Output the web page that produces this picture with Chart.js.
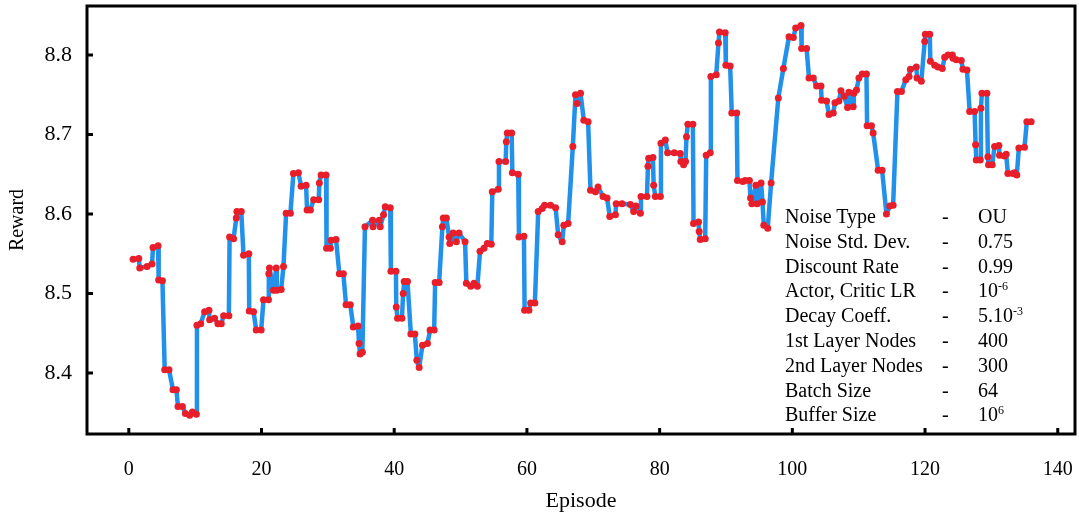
<!DOCTYPE html>
<html>
<head>
<meta charset="utf-8">
<script src="https://cdn.jsdelivr.net/npm/chart.js@4.4.0/dist/chart.umd.min.js"></script>
<style>
  body { margin: 0; background: #fff; }
  #wrap { position: relative; width: 1079px; height: 515px; }
  #params { position: absolute; left: 785px; top: 204px; font: 20px "Liberation Serif", serif; color: #000; }
  #params .row { position: relative; height: 24.8px; line-height: 24.8px; white-space: nowrap; }
  #params .dash { position: absolute; left: 157px; }
  #params .val { position: absolute; left: 193px; }
  #params sup { font-size: 12px; line-height: 0; vertical-align: 7px; }
</style>
</head>
<body>
<div id="wrap">
  <canvas id="myChart" width="1079" height="515"></canvas>
  <div id="params"></div>
</div>
<script>
const episodes = [
  0.65, 1.50, 1.65, 2.75, 3.50, 3.65, 4.41, 4.50, 5.07, 5.41, 6.06, 6.66, 7.17, 7.41, 8.08, 8.53, 9.17, 9.58, 10.18, 10.27,
  10.83, 11.43, 12.08, 12.18, 12.93, 13.43, 13.94, 14.29, 15.08, 15.19, 15.79, 16.20, 16.29, 16.95, 17.29, 18.09, 18.15, 18.80, 19.20, 19.95,
  20.30, 21.05, 21.10, 21.20, 21.80, 22.21, 22.30, 22.96, 23.31, 23.71, 24.36, 24.81, 25.56, 25.97, 26.72, 26.87, 27.37, 27.86, 28.62, 28.72,
  28.98, 29.73, 29.80, 30.38, 30.48, 31.23, 31.73, 32.33, 32.74, 33.38, 33.83, 34.55, 34.70, 34.85, 35.20, 35.59, 36.74, 36.80, 37.74, 37.89,
  38.39, 38.65, 39.40, 39.50, 40.26, 40.31, 40.50, 41.16, 41.35, 41.50, 42.00, 42.51, 43.11, 43.41, 43.76, 44.26, 45.01, 45.41, 46.02, 46.17,
  46.77, 47.26, 47.40, 47.86, 48.27, 48.37, 48.87, 49.37, 49.77, 50.68, 50.87, 51.53, 52.03, 52.53, 52.93, 53.53, 54.03, 54.63, 54.78, 55.68,
  55.79, 56.80, 56.89, 57.04, 57.70, 57.80, 58.69, 58.80, 59.55, 59.65, 60.30, 60.56, 61.20, 61.70, 62.30, 62.66, 63.56, 64.32, 64.71, 65.31,
  65.56, 66.21, 66.92, 67.32, 67.56, 68.08, 68.57, 69.22, 69.58, 70.33, 70.72, 71.47, 72.08, 72.48, 73.34, 73.45, 74.33, 75.59, 76.09, 76.44,
  77.10, 77.19, 78.09, 78.24, 78.35, 78.99, 79.10, 79.35, 80.11, 80.20, 80.86, 81.20, 82.21, 83.11, 83.20, 83.61, 83.90, 84.05, 84.25, 85.01,
  85.11, 85.86, 85.96, 86.12, 86.87, 87.02, 87.62, 87.72, 88.53, 88.87, 89.02, 89.88, 89.98, 90.63, 90.87, 91.62, 91.73, 92.53, 92.89, 93.53,
  93.70, 93.90, 94.50, 94.70, 95.29, 95.50, 95.70, 96.29, 96.80, 97.89, 98.65, 99.50, 100.15, 100.50, 101.31, 101.40, 102.15, 102.51, 103.16, 103.66,
  104.32, 104.41, 105.16, 105.52, 106.17, 106.42, 107.02, 107.32, 107.82, 108.32, 108.53, 109.17, 109.27, 109.67, 110.03, 110.53, 111.17, 111.27, 111.93, 112.18,
  112.93, 113.53, 114.18, 114.69, 115.19, 115.84, 116.44, 117.10, 117.59, 117.79, 118.69, 118.79, 119.44, 119.95, 120.05, 120.71, 120.80, 121.46, 121.95, 122.60,
  122.96, 123.46, 124.11, 124.21, 124.71, 125.46, 125.71, 126.32, 126.72, 127.47, 127.62, 127.72, 128.32, 128.42, 128.57, 129.32, 129.47, 129.57, 130.12, 130.48,
  131.13, 131.23, 131.98, 132.23, 132.48, 133.23, 133.49, 133.83, 134.14, 134.99, 135.34, 135.99
];
const rewards = [
  8.543, 8.544, 8.532, 8.534, 8.537, 8.558, 8.560, 8.517, 8.516, 8.404, 8.404, 8.379, 8.379, 8.358, 8.358, 8.349, 8.347, 8.351, 8.348, 8.460,
  8.462, 8.477, 8.479, 8.467, 8.469, 8.462, 8.462, 8.472, 8.472, 8.571, 8.569, 8.595, 8.603, 8.603, 8.548, 8.550, 8.478, 8.477, 8.454, 8.454,
  8.492, 8.492, 8.525, 8.532, 8.504, 8.532, 8.504, 8.505, 8.534, 8.601, 8.601, 8.651, 8.652, 8.635, 8.636, 8.605, 8.605, 8.618, 8.618, 8.639,
  8.649, 8.649, 8.557, 8.557, 8.567, 8.568, 8.525, 8.525, 8.486, 8.486, 8.458, 8.459, 8.437, 8.424, 8.426, 8.584, 8.592, 8.584, 8.592, 8.584,
  8.599, 8.609, 8.608, 8.528, 8.528, 8.483, 8.469, 8.469, 8.500, 8.515, 8.515, 8.449, 8.449, 8.416, 8.407, 8.435, 8.437, 8.454, 8.454, 8.514,
  8.514, 8.584, 8.595, 8.595, 8.571, 8.563, 8.576, 8.565, 8.576, 8.565, 8.513, 8.509, 8.513, 8.509, 8.553, 8.557, 8.563, 8.562, 8.628, 8.631,
  8.666, 8.666, 8.691, 8.702, 8.702, 8.652, 8.650, 8.571, 8.572, 8.479, 8.479, 8.488, 8.488, 8.603, 8.607, 8.611, 8.611, 8.608, 8.574, 8.565,
  8.586, 8.588, 8.685, 8.750, 8.739, 8.752, 8.718, 8.716, 8.630, 8.628, 8.634, 8.622, 8.620, 8.597, 8.599, 8.613, 8.613, 8.612, 8.603, 8.610,
  8.601, 8.622, 8.622, 8.660, 8.670, 8.671, 8.636, 8.622, 8.622, 8.689, 8.693, 8.677, 8.677, 8.676, 8.666, 8.662, 8.666, 8.697, 8.713, 8.713,
  8.588, 8.590, 8.578, 8.568, 8.569, 8.674, 8.677, 8.773, 8.775, 8.815, 8.829, 8.828, 8.787, 8.786, 8.727, 8.727, 8.642, 8.641, 8.642, 8.642,
  8.620, 8.613, 8.636, 8.613, 8.639, 8.615, 8.586, 8.582, 8.639, 8.746, 8.783, 8.823, 8.822, 8.834, 8.837, 8.808, 8.808, 8.771, 8.771, 8.761,
  8.761, 8.743, 8.742, 8.725, 8.727, 8.740, 8.742, 8.755, 8.748, 8.734, 8.753, 8.735, 8.752, 8.756, 8.771, 8.776, 8.776, 8.711, 8.711, 8.702,
  8.655, 8.655, 8.600, 8.610, 8.611, 8.754, 8.754, 8.769, 8.773, 8.782, 8.785, 8.771, 8.767, 8.817, 8.826, 8.826, 8.792, 8.787, 8.785, 8.783,
  8.797, 8.800, 8.800, 8.796, 8.794, 8.793, 8.782, 8.781, 8.729, 8.729, 8.687, 8.668, 8.668, 8.733, 8.752, 8.752, 8.672, 8.662, 8.662, 8.685,
  8.686, 8.674, 8.673, 8.675, 8.651, 8.651, 8.652, 8.649, 8.683, 8.684, 8.716, 8.716
];
const xTicks = [0, 20, 40, 60, 80, 100, 120, 140];
const yTicks = [8.4, 8.5, 8.6, 8.7, 8.8];

// hyperparameter table shown inside the plot
const paramNames = ['Noise Type', 'Noise Std. Dev.', 'Discount Rate', 'Actor, Critic LR', 'Decay Coeff.',
  '1st Layer Nodes', '2nd Layer Nodes', 'Batch Size', 'Buffer Size'];
const paramValues = ['OU', '0.75', '0.99', '10<sup>-6</sup>', '5.10<sup>-3</sup>', '400', '300', '64', '10<sup>6</sup>'];

const box = document.querySelector('#params');
paramNames.forEach((name, i) => {
  const row = document.createElement('div');
  row.className = 'row';
  row.innerHTML = '<span>' + name + '</span><span class="dash">-</span><span class="val">' + paramValues[i] + '</span>';
  box.appendChild(row);
});

const serif = '"Liberation Serif", "Times New Roman", serif';

const framePlugin = {
  id: 'frame',
  afterDraw(chart) {
    const { ctx, chartArea: a, scales } = chart;
    ctx.save();
    ctx.strokeStyle = '#000';
    ctx.lineWidth = 3;
    ctx.strokeRect(a.left, a.top, a.right - a.left, a.bottom - a.top);
    ctx.beginPath();
    xTicks.forEach(v => {
      const px = scales.x.getPixelForValue(v);
      ctx.moveTo(px, a.bottom);
      ctx.lineTo(px, a.bottom - 6);
    });
    yTicks.forEach(v => {
      const py = scales.y.getPixelForValue(v);
      ctx.moveTo(a.left, py);
      ctx.lineTo(a.left + 6, py);
    });
    ctx.stroke();
    ctx.restore();
  }
};

function noPad(s) {
  s.paddingTop = 0;
  s.paddingBottom = 0;
  s.paddingLeft = 0;
  s.paddingRight = 0;
}

function initChart(target) {
  const points = episodes.map((x, i) => ({ x: x, y: rewards[i] }));
  return new Chart(target, {
    type: 'line',
    data: {
      datasets: [{
        data: points,
        borderColor: 'rgb(33,145,235)',
        borderWidth: 4.5,
        borderJoinStyle: 'round',
        pointRadius: 3.5,
        pointBackgroundColor: 'rgb(232,30,42)',
        pointBorderColor: 'rgb(232,30,42)',
        pointBorderWidth: 0,
        tension: 0
      }]
    },
    options: {
      responsive: false,
      animation: false,
      devicePixelRatio: 1,
      layout: { padding: { top: 6, right: 2, left: 0, bottom: 0 } },
      plugins: { legend: { display: false }, tooltip: { enabled: false } },
      scales: {
        x: {
          type: 'linear',
          min: -6.3,
          max: 142.6,
          afterBuildTicks: s => { s.ticks = xTicks.map(v => ({ value: v })); },
          afterFit: s => { s.height = 81; noPad(s); },
          grid: { display: false, drawTicks: false },
          border: { display: false },
          ticks: { color: '#000', font: { family: serif, size: 20 }, padding: 24, maxRotation: 0, autoSkip: false },
          title: { display: true, text: 'Episode', color: '#000', font: { family: serif, size: 22 }, padding: { top: 0, bottom: 1 } }
        },
        y: {
          type: 'linear',
          min: 8.3233,
          max: 8.8616,
          afterBuildTicks: s => { s.ticks = yTicks.map(v => ({ value: v })); },
          afterFit: s => { s.width = 87; noPad(s); },
          grid: { display: false, drawTicks: false },
          border: { display: false },
          ticks: { color: '#000', font: { family: serif, size: 22 }, padding: 15, callback: v => v.toFixed(1) },
          title: { display: true, text: 'Reward', color: '#000', font: { family: serif, size: 20 }, padding: { top: 6, bottom: 0 } }
        }
      }
    },
    plugins: [framePlugin]
  });
}

document.addEventListener('DOMContentLoaded', () => initChart(document.querySelector('#myChart')));
</script>
</body>
</html>
